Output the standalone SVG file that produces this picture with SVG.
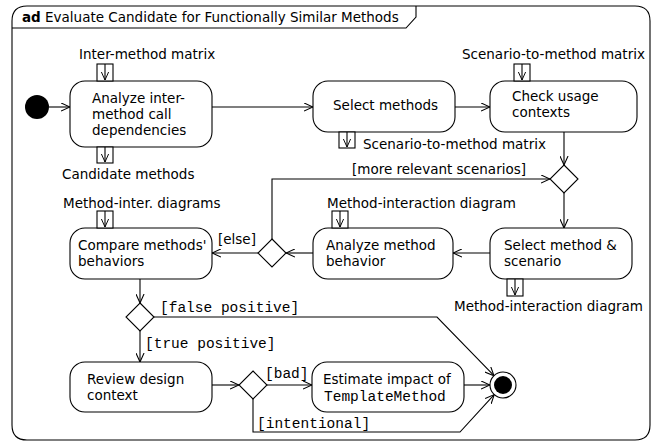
<svg xmlns="http://www.w3.org/2000/svg" width="653" height="442" viewBox="0 0 653 442">
  <style>
    .ln { fill: none; stroke: #000; stroke-width: 1.1; }
    .act { fill: #fff; stroke: #000; stroke-width: 1.1; }
    .pin { fill: #fff; stroke: #000; stroke-width: 1.1; }
    .t { font-family: "DejaVu Sans", "Verdana", sans-serif; font-size: 13.5px; fill: #000; }
    .m { font-family: "Liberation Mono", "Courier New", monospace; font-size: 14.5px; fill: #000; }
    .b { font-weight: bold; }
  </style>
  <defs>
    <marker id="arr" viewBox="0 0 10 10" refX="10" refY="5" markerWidth="9" markerHeight="9" markerUnits="userSpaceOnUse" orient="auto">
      <path d="M0,0.5 L10,5 L0,9.5" fill="none" stroke="#000" stroke-width="1.2"/>
    </marker>
    <marker id="parr" viewBox="0 0 10 10" refX="10" refY="5" markerWidth="8" markerHeight="8" markerUnits="userSpaceOnUse" orient="auto">
      <path d="M0,0.5 L10,5 L0,9.5" fill="none" stroke="#000" stroke-width="1.2"/>
    </marker>
  </defs>

  <!-- activity frame -->
  <g id="frame">
    <path class="ln" d="M27,6 H635 Q650,6 650,21 V425 Q650,440 635,440 H27 Q12,440 12,425 V21 Q12,6 27,6 Z"/>
    <path class="ln" d="M12,28 H406 L416,17 V6"/>
    <text class="t" x="22" y="22"><tspan class="b">ad</tspan> Evaluate Candidate for Functionally Similar Methods</text>
  </g>

  <!-- control flows -->
  <g id="connectors">
    <line class="ln" x1="49" y1="107" x2="70" y2="107" marker-end="url(#arr)"/>
    <line class="ln" x1="212" y1="107" x2="313" y2="107" marker-end="url(#arr)"/>
    <line class="ln" x1="455" y1="107" x2="490" y2="107" marker-end="url(#arr)"/>
    <line class="ln" x1="564" y1="132" x2="564" y2="165" marker-end="url(#arr)"/>
    <line class="ln" x1="564" y1="193" x2="564" y2="228" marker-end="url(#arr)"/>
    <line class="ln" x1="490" y1="253" x2="453" y2="253" marker-end="url(#arr)"/>
    <line class="ln" x1="313" y1="253" x2="286" y2="253" marker-end="url(#arr)"/>
    <line class="ln" x1="258" y1="253" x2="212" y2="253" marker-end="url(#arr)"/>
    <polyline class="ln" points="272,239 272,179 550,179" marker-end="url(#arr)"/>
    <line class="ln" x1="140" y1="279" x2="140" y2="303" marker-end="url(#arr)"/>
    <line class="ln" x1="140" y1="331" x2="140" y2="362" marker-end="url(#arr)"/>
    <polyline class="ln" points="154,317 437,317 494,375.7" marker-end="url(#arr)"/>
    <line class="ln" x1="212" y1="385" x2="239" y2="385" marker-end="url(#arr)"/>
    <line class="ln" x1="267" y1="385" x2="312" y2="385" marker-end="url(#arr)"/>
    <line class="ln" x1="464" y1="385" x2="490" y2="385" marker-end="url(#arr)"/>
    <polyline class="ln" points="253,399 253,432 460,432 494.2,394.6" marker-end="url(#arr)"/>

    <text class="t" x="352" y="174">[more relevant scenarios]</text>
    <text class="t" x="218" y="244">[else]</text>
    <text class="m" x="160" y="312">[false positive]</text>
    <text class="m" x="145" y="348">[true positive]</text>
    <text class="m" x="265" y="378">[bad]</text>
    <text class="m" x="257" y="428">[intentional]</text>
  </g>

  <!-- start and end -->
  <g id="initial">
    <circle cx="37" cy="107" r="12" fill="#000"/>
  </g>
  <g id="final">
    <circle cx="503" cy="385" r="13" fill="#fff" stroke="#000" stroke-width="1.1"/>
    <circle cx="503" cy="385" r="9" fill="#000"/>
  </g>

  <!-- decision / merge nodes -->
  <g id="merge-scenarios"><polygon class="act" points="564,165 578,179 564,193 550,179"/></g>
  <g id="decide-scenarios"><polygon class="act" points="272,239 286,253 272,267 258,253"/></g>
  <g id="decide-positive"><polygon class="act" points="140,303 154,317 140,331 126,317"/></g>
  <g id="decide-design"><polygon class="act" points="253,371 267,385 253,399 239,385"/></g>

  <!-- actions -->
  <g id="analyze-deps">
    <rect class="act" x="70" y="81" width="142" height="66" rx="15"/>
    <text class="t" x="92" y="103">Analyze inter-</text>
    <text class="t" x="92" y="119">method call</text>
    <text class="t" x="92" y="135">dependencies</text>
    <rect class="pin" x="97" y="64" width="16" height="17"/>
    <line class="ln" x1="105" y1="64" x2="105" y2="80" marker-end="url(#parr)"/>
    <text class="t" x="79" y="59">Inter-method matrix</text>
    <rect class="pin" x="97" y="147" width="16" height="16"/>
    <line class="ln" x1="105" y1="147" x2="105" y2="162" marker-end="url(#parr)"/>
    <text class="t" x="62" y="179">Candidate methods</text>
  </g>

  <g id="select-methods">
    <rect class="act" x="313" y="81" width="142" height="51" rx="15"/>
    <text class="t" x="333" y="110">Select methods</text>
    <rect class="pin" x="339" y="132" width="16" height="16"/>
    <line class="ln" x1="347" y1="132" x2="347" y2="147" marker-end="url(#parr)"/>
    <text class="t" x="363" y="149">Scenario-to-method matrix</text>
  </g>

  <g id="check-usage">
    <rect class="act" x="490" y="81" width="147" height="51" rx="15"/>
    <text class="t" x="512" y="101">Check usage</text>
    <text class="t" x="512" y="117">contexts</text>
    <rect class="pin" x="514" y="64" width="16" height="17"/>
    <line class="ln" x1="522" y1="64" x2="522" y2="80" marker-end="url(#parr)"/>
    <text class="t" x="462" y="59">Scenario-to-method matrix</text>
  </g>

  <g id="select-scenario">
    <rect class="act" x="490" y="228" width="142" height="51" rx="15"/>
    <text class="t" x="504" y="250">Select method &amp;</text>
    <text class="t" x="504" y="266">scenario</text>
    <rect class="pin" x="507" y="279" width="16" height="17"/>
    <line class="ln" x1="515" y1="279" x2="515" y2="295" marker-end="url(#parr)"/>
    <text class="t" x="454" y="311">Method-interaction diagram</text>
  </g>

  <g id="analyze-behavior">
    <rect class="act" x="313" y="228" width="140" height="51" rx="15"/>
    <text class="t" x="326" y="250">Analyze method</text>
    <text class="t" x="326" y="266">behavior</text>
    <rect class="pin" x="332" y="211" width="16" height="17"/>
    <line class="ln" x1="340" y1="211" x2="340" y2="227" marker-end="url(#parr)"/>
    <text class="t" x="327" y="208">Method-interaction diagram</text>
  </g>

  <g id="compare-behaviors">
    <rect class="act" x="70" y="228" width="142" height="51" rx="15"/>
    <text class="t" x="78" y="250">Compare methods'</text>
    <text class="t" x="78" y="266">behaviors</text>
    <rect class="pin" x="97" y="211" width="16" height="17"/>
    <line class="ln" x1="105" y1="211" x2="105" y2="227" marker-end="url(#parr)"/>
    <text class="t" x="63" y="208">Method-inter. diagrams</text>
  </g>

  <g id="review-design">
    <rect class="act" x="70" y="362" width="142" height="50" rx="15"/>
    <text class="t" x="87" y="384">Review design</text>
    <text class="t" x="87" y="400">context</text>
  </g>

  <g id="estimate-impact">
    <rect class="act" x="312" y="362" width="152" height="50" rx="15"/>
    <text class="t" x="323" y="384">Estimate impact of</text>
    <text class="m" x="324" y="401">TemplateMethod</text>
  </g>
</svg>
